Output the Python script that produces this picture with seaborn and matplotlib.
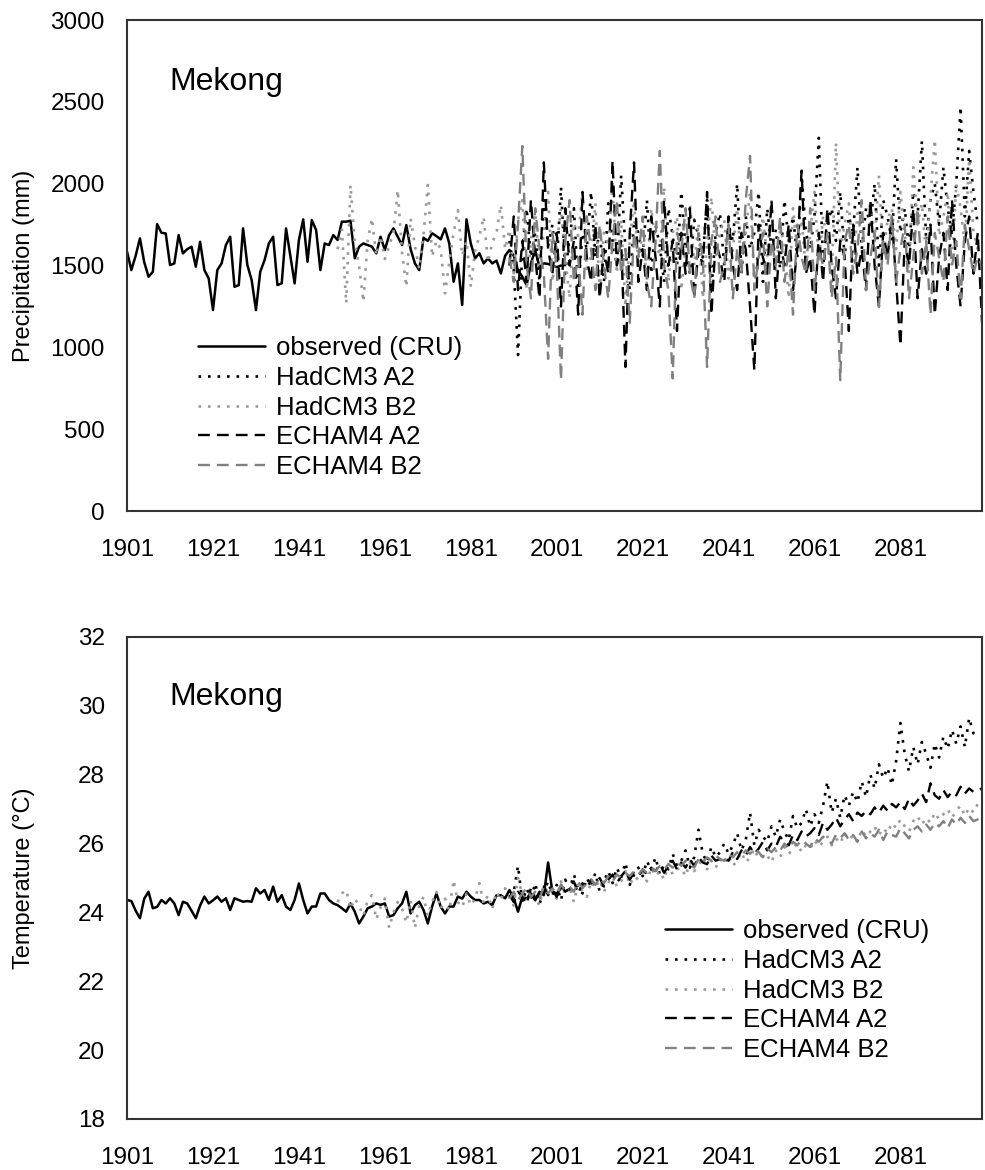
import numpy as np
import pandas as pd
import matplotlib
matplotlib.use("Agg")
import matplotlib.pyplot as plt
import seaborn as sns

# ---------------- DATA ----------------
x_ticks = [1901, 1921, 1941, 1961, 1981, 2001, 2021, 2041, 2061, 2081]
series_names = ["observed (CRU)", "HadCM3 A2", "HadCM3 B2", "ECHAM4 A2", "ECHAM4 B2"]
start_years = [1901, 1990, 1950, 1990, 1990]

# Precipitation (mm)
p_obs = [
    1584, 1472, 1560, 1666, 1520, 1431, 1462, 1753, 1700, 1696,
    1503, 1513, 1686, 1574, 1600, 1615, 1493, 1645, 1472, 1421,
    1228, 1472, 1513, 1625, 1676, 1370, 1380, 1727, 1503, 1411,
    1228, 1462, 1533, 1635, 1676, 1381, 1391, 1727, 1560, 1391,
    1656, 1782, 1523, 1778, 1717, 1472, 1635, 1625, 1686, 1656,
    1768, 1768, 1774, 1544, 1615, 1635, 1625, 1615, 1574, 1676,
    1595, 1686, 1727, 1676, 1625, 1747, 1600, 1513, 1472, 1670,
    1650, 1697, 1680, 1660, 1727, 1635, 1401, 1513, 1259, 1782,
    1635, 1544, 1575, 1513, 1544, 1513, 1530, 1452, 1560, 1595,
    1560, 1470, 1432, 1380, 1513, 1595, 1490, 1513, 1510, 1500,
    1490, 1500,
]
p_had_a2 = [
    1650, 1480, 953, 1600, 1850, 1550, 1700, 1400, 1900, 1620,
    1750, 1500, 1980, 1450, 1680, 1850, 1350, 1700, 1600, 1950,
    1550, 1720, 1400, 1880, 1650, 1500, 2050, 1600, 1350, 1780,
    1700, 1550, 1900, 1450, 1750, 1620, 1400, 1850, 1680, 1500,
    1950, 1600, 1450, 1780, 1680, 1550, 1900, 1350, 1700, 1820,
    1500, 1750, 1650, 2000, 1450, 1800, 1600, 1700, 1950, 1400,
    1850, 1600, 1720, 1480, 1900, 1650, 1800, 1550, 2050, 1700,
    1600, 1800, 2280, 1500, 1750, 1850, 1650, 1950, 1550, 1800,
    1700, 2100, 1600, 1850, 1750, 2000, 1500, 1900, 1800, 1650,
    2150, 1700, 1850, 1600, 1950, 1800, 2260, 1650, 1900, 2000,
    1750, 2100, 1850, 1700, 2000, 2470, 1800, 2200, 1950, 1750,
]
p_had_b2 = [
    1600, 1720, 1269, 1992, 1640, 1500, 1279, 1650, 1788, 1560,
    1680, 1540, 1620, 1700, 1961, 1580, 1370, 1788, 1620, 1480,
    1690, 1992, 1554, 1650, 1600, 1330, 1520, 1700, 1839, 1560,
    1650, 1370, 1590, 1680, 1798, 1520, 1640, 1700, 1870, 1600,
    1720, 1452, 1780, 1900, 1350, 1660, 1820, 1500, 1700, 1950,
    1400, 1620, 1850, 1550, 1300, 1760, 1680, 1950, 1480, 1560,
    1880, 1350, 1700, 1620, 2000, 1450, 1780, 1250, 1650, 1900,
    1500, 1720, 1380, 1850, 1640, 1560, 1980, 1400, 1700, 1800,
    1350, 1620, 1880, 1500, 1760, 1300, 1650, 1920, 1550, 1700,
    1780, 1420, 1600, 1850, 1500, 1700, 1950, 1380, 1620, 1800,
    1550, 1900, 1450, 1720, 1640, 1300, 1850, 1600, 1780, 1480,
    1700, 1950, 1520, 1800, 1650, 1400, 2250, 1600, 1750, 1880,
    1500, 1820, 1700, 1380, 1900, 1650, 2050, 1550, 1780, 1850,
    1600, 1950, 1700, 1450, 2100, 1750, 1880, 1550, 1920, 2270,
    1680, 1800, 1950, 1500, 2000, 1850, 1620, 2150, 1700, 1600,
]
p_ech_a2 = [
    1500, 1800, 1350, 1650, 1400, 1900, 1550, 1300, 2130, 1600,
    1450, 1700, 1250, 1850, 1500, 1650, 1200, 1950, 1550, 1400,
    1750, 1300, 1600, 1450, 2140, 1500, 1650, 880, 1700, 2130,
    1400, 1600, 1350, 1800, 1550, 1250, 1900, 1500, 1650, 1100,
    1700, 1450, 1850, 1300, 1600, 1500, 1950, 1200, 1650, 1550,
    1400, 1800, 1500, 1350, 1700, 1600, 1250, 860, 1750, 1550,
    1450, 1900, 1300, 1650, 1500, 1750, 1350, 1600, 2080, 1450,
    1550, 1200, 1700, 1400, 1850, 1500, 1300, 1650, 1550, 1100,
    1750, 1450, 1600, 1350, 1900, 1500, 1250, 1700, 1550, 1800,
    1400, 1010, 1650, 1500, 1850, 1300, 1600, 1450, 1750, 1200,
    1550, 1700, 1350, 1900, 1500, 1250, 1650, 1800, 1450, 1700,
    1150,
]
p_ech_b2 = [
    1550, 1400, 1750, 2230, 1500, 1300, 1850, 1600, 1450, 930,
    1700, 1500, 800, 1650, 1900, 1400, 1550, 1200, 1800, 1600,
    1350, 1750, 1500, 1300, 1650, 1900, 1450, 1600, 1150, 1700,
    1550, 1800, 1400, 1250, 1650, 2200, 1500, 1350, 810, 1700,
    1600, 1850, 1450, 1300, 1700, 1550, 880, 1650, 1800, 1400,
    1500, 1750, 1300, 1600, 1450, 1900, 2170, 1350, 1550, 1700,
    1250, 1650, 1500, 1800, 1400, 1600, 1200, 1750, 1550, 1450,
    1850, 1350, 1600, 1500, 1700, 1300, 1550, 800, 1650, 1750,
    1450, 1600, 1900, 1350, 1550, 1700, 1250, 1650, 1500, 1800,
    1400, 1600, 1750, 1300, 1550, 1850, 1450, 1650, 1200, 1700,
    1550, 1400, 1800, 1500, 1650, 1300, 1750, 1600, 1450, 1550,
    1500,
]

# Temperature (deg C)
t_obs = [
    24.36, 24.33, 24.05, 23.83, 24.40, 24.60, 24.12, 24.16, 24.36, 24.26,
    24.41, 24.26, 23.92, 24.31, 24.26, 24.05, 23.83, 24.20, 24.46, 24.26,
    24.35, 24.46, 24.31, 24.41, 24.07, 24.41, 24.36, 24.31, 24.33, 24.31,
    24.70, 24.55, 24.65, 24.36, 24.75, 24.31, 24.50, 24.17, 24.07, 24.36,
    24.84, 24.36, 23.97, 24.17, 24.17, 24.55, 24.55, 24.36, 24.26, 24.21,
    24.12, 24.02, 24.26, 24.02, 23.68, 23.88, 24.12, 24.17, 24.26, 24.22,
    24.26, 23.88, 23.92, 24.12, 24.26, 24.60, 23.97, 24.21, 24.31, 24.07,
    23.68, 24.17, 24.55, 24.17, 23.97, 24.17, 24.17, 24.46, 24.40, 24.60,
    24.46, 24.36, 24.36, 24.26, 24.31, 24.21, 24.50, 24.50, 24.41, 24.65,
    24.41, 24.02, 24.46, 24.40, 24.55, 24.35, 24.60, 24.50, 25.45, 24.60,
    24.55, 24.70,
]
t_had_a2 = [
    24.45, 24.60, 25.35, 24.30, 24.70, 24.40, 24.85, 24.25, 24.60, 24.90,
    24.50, 24.80, 24.35, 24.95, 24.65, 25.10, 24.70, 24.55, 25.00, 24.75,
    25.15, 24.60, 24.90, 25.20, 24.85, 25.30, 25.00, 25.45, 24.80, 25.10,
    25.30, 25.05, 25.50, 25.20, 25.60, 25.10, 25.40, 25.25, 25.70, 25.35,
    25.50, 25.80, 25.30, 25.60, 26.40, 25.70, 25.45, 25.90, 25.60, 25.75,
    26.00, 25.70, 25.95, 26.30, 25.80, 26.10, 26.90, 25.95, 26.40, 26.20,
    26.05, 26.50, 26.20, 26.70, 26.35, 26.10, 26.80, 26.45, 26.60, 27.00,
    26.50, 26.85, 26.60, 27.10, 27.80, 26.90, 27.30, 26.75, 27.40, 27.10,
    27.50, 27.20, 27.80, 27.35, 28.00, 27.60, 28.30, 27.90, 28.20, 27.70,
    28.40, 29.50, 28.60, 28.10, 28.80, 28.30, 28.95, 28.60, 28.20, 28.90,
    28.50, 29.10, 28.75, 29.30, 28.90, 29.40, 28.80, 29.65, 29.20, 29.10,
]
t_had_b2 = [
    24.30, 24.55, 24.65, 24.10, 24.40, 24.20, 23.90, 24.35, 24.50, 23.80,
    24.15, 24.40, 23.55, 24.00, 24.30, 24.10, 23.70, 24.35, 23.55, 24.20,
    24.45, 23.90, 24.30, 24.60, 24.10, 24.40, 24.05, 24.94, 24.30, 24.15,
    24.55, 24.20, 24.40, 24.85, 24.25, 24.50, 24.10, 24.60, 24.35, 24.70,
    24.40, 24.20, 25.00, 24.50, 24.30, 24.70, 24.45, 24.20, 24.80, 24.55,
    24.65, 24.40, 24.90, 24.50, 24.75, 24.30, 24.85, 24.60, 24.45, 24.90,
    24.70, 24.95, 24.60, 24.85, 25.10, 24.75, 24.90, 25.20, 24.80, 25.05,
    24.95, 25.15, 24.90, 25.30, 25.05, 25.20, 24.95, 25.40, 25.10, 25.25,
    25.30, 25.05, 25.45, 25.20, 25.35, 25.60, 25.25, 25.50, 25.30, 25.55,
    25.40, 25.65, 25.35, 25.50, 25.75, 25.45, 25.60, 25.85, 25.55, 25.70,
    25.65, 25.45, 25.80, 25.60, 25.90, 25.70, 25.85, 26.00, 25.75, 25.95,
    25.85, 26.10, 25.90, 26.05, 26.20, 25.95, 26.15, 26.00, 26.30, 26.10,
    26.25, 26.05, 26.40, 26.20, 26.35, 26.50, 26.25, 26.45, 26.30, 26.60,
    26.45, 26.70, 26.50, 26.35, 26.65, 26.80, 26.55, 26.75, 26.60, 26.90,
    26.70, 26.85, 27.00, 26.75, 26.95, 27.10, 26.80, 27.05, 26.90, 27.15,
]
t_ech_a2 = [
    24.50, 24.30, 24.60, 24.45, 24.25, 24.70, 24.40, 24.55, 24.75, 24.50,
    24.65, 24.45, 24.80, 24.60, 24.70, 24.90, 24.55, 24.85, 24.70, 24.95,
    24.80, 25.00, 24.75, 24.95, 25.10, 24.85, 25.05, 25.20, 24.95, 25.15,
    25.05, 25.25, 25.10, 25.30, 25.20, 25.40, 25.15, 25.35, 25.50, 25.25,
    25.45, 25.30, 25.55, 25.35, 25.60, 25.45, 25.40, 25.65, 25.50, 25.55,
    25.60, 25.50, 25.75, 25.55, 25.80, 25.65, 25.90, 25.70, 25.85, 26.05,
    25.80, 26.00, 25.90, 26.20, 26.05, 25.95, 26.25, 26.10, 26.35, 26.20,
    26.30, 26.45, 26.25, 26.60, 26.40, 26.55, 26.75, 26.50, 26.70, 26.85,
    26.65, 26.90, 26.80, 26.95, 26.85, 27.05, 26.90, 27.10, 26.95, 27.15,
    27.05, 27.20, 27.00, 27.30, 27.10, 27.25, 27.45, 27.20, 27.75, 27.40,
    27.30, 27.55, 27.35, 27.50, 27.40, 27.65, 27.45, 27.60, 27.50, 27.55,
    27.60,
]
t_ech_b2 = [
    24.40, 24.60, 24.35, 24.55, 24.70, 24.45, 24.60, 24.40, 24.75, 24.55,
    24.70, 24.55, 24.80, 24.65, 24.75, 24.60, 24.90, 24.70, 24.85, 24.95,
    24.80, 25.00, 24.85, 25.05, 24.90, 25.10, 25.00, 25.15, 25.05, 25.20,
    25.10, 25.25, 25.15, 25.30, 25.20, 25.35, 25.25, 25.40, 25.30, 25.45,
    25.35, 25.50, 25.40, 25.30, 25.55, 25.45, 25.60, 25.50, 25.65, 25.55,
    25.50, 25.70, 25.60, 25.75, 25.65, 25.80, 25.70, 25.85, 25.75, 25.60,
    25.85, 25.75, 25.90, 25.80, 26.00, 25.85, 26.05, 25.95, 26.10, 26.00,
    25.90, 26.15, 26.05, 26.20, 26.10, 26.00, 26.25, 26.15, 26.30, 26.10,
    26.25, 26.05, 26.35, 26.15, 26.30, 26.20, 26.40, 26.10, 26.35, 26.25,
    26.20, 26.45, 26.30, 26.15, 26.40, 26.50, 26.35, 26.55, 26.40, 26.60,
    26.50, 26.65, 26.45, 26.70, 26.55, 26.75, 26.60, 26.80, 26.65, 26.70,
    26.75,
]

precip_series = [p_obs, p_had_a2, p_had_b2, p_ech_a2, p_ech_b2]
temp_series = [t_obs, t_had_a2, t_had_b2, t_ech_a2, t_ech_b2]

# ---------------- STYLE ----------------
styles = {
    "observed (CRU)": dict(color="black", linestyle="-", lw=1.8),
    "HadCM3 A2": dict(color="black", linestyle=(0, (1, 2.6)), lw=1.9),
    "HadCM3 B2": dict(color="#9a9a9a", linestyle=(0, (1, 2.6)), lw=1.9),
    "ECHAM4 A2": dict(color="black", linestyle=(0, (5, 3)), lw=1.7),
    "ECHAM4 B2": dict(color="#808080", linestyle=(0, (5, 3)), lw=1.7),
}

sns.set_theme(style="white")
plt.rcParams["font.family"] = ["Liberation Sans", "DejaVu Sans"]
plt.rcParams["text.color"] = "black"
plt.rcParams["axes.labelcolor"] = "black"


def build_frame(series_list):
    frames = []
    for name, start, vals in zip(series_names, start_years, series_list):
        frames.append(pd.DataFrame({
            "year": np.arange(start, start + len(vals)),
            "value": vals,
            "series": name,
        }))
    return pd.concat(frames, ignore_index=True)


def draw(ax, df, ylim, yticks, ylabel, legend_anchor):
    for name in series_names:
        sub = df[df["series"] == name]
        sns.lineplot(data=sub, x="year", y="value", ax=ax, label=name,
                     **styles[name])
    ax.set_xlim(1901, 2100)
    ax.set_ylim(*ylim)
    ax.set_xticks(x_ticks)
    ax.set_xticklabels([str(t) for t in x_ticks])
    ax.set_yticks(yticks)
    ax.set_xlabel("")
    ax.set_ylabel(ylabel, fontsize=17, color="black")
    ax.yaxis.set_label_coords(-0.108, 0.5)
    for sp in ax.spines.values():
        sp.set_color("#333333")
        sp.set_linewidth(1.5)
        sp.set_visible(True)
    ax.tick_params(axis="both", direction="in", length=8, width=1,
                   color="#444444", labelcolor="black", labelsize=17.5)
    ax.tick_params(axis="x", pad=20)
    ax.tick_params(axis="y", pad=16)
    ax.text(0.049, 0.858, "Mekong", transform=ax.transAxes, fontsize=23,
            va="baseline", ha="left", color="black")
    leg = ax.legend(loc="upper left", bbox_to_anchor=legend_anchor,
                    frameon=False, fontsize=18.5, handlelength=2.6,
                    handletextpad=0.45, labelspacing=0.22, borderpad=0,
                    borderaxespad=0)
    for t in leg.get_texts():
        t.set_color("black")


fig = plt.figure(figsize=(9.85, 11.7), dpi=100)
ax1 = fig.add_axes([0.129, 0.5632, 0.868, 0.4197])
ax2 = fig.add_axes([0.129, 0.0436, 0.868, 0.412])

draw(ax1, build_frame(precip_series), (0, 3000), np.arange(0, 3001, 500),
     "Precipitation (mm)", (0.083, 0.356))
draw(ax2, build_frame(temp_series), (18, 32), np.arange(18, 33, 2),
     "Temperature (\u00b0C)", (0.629, 0.414))

fig.savefig("out.png", dpi=100)
